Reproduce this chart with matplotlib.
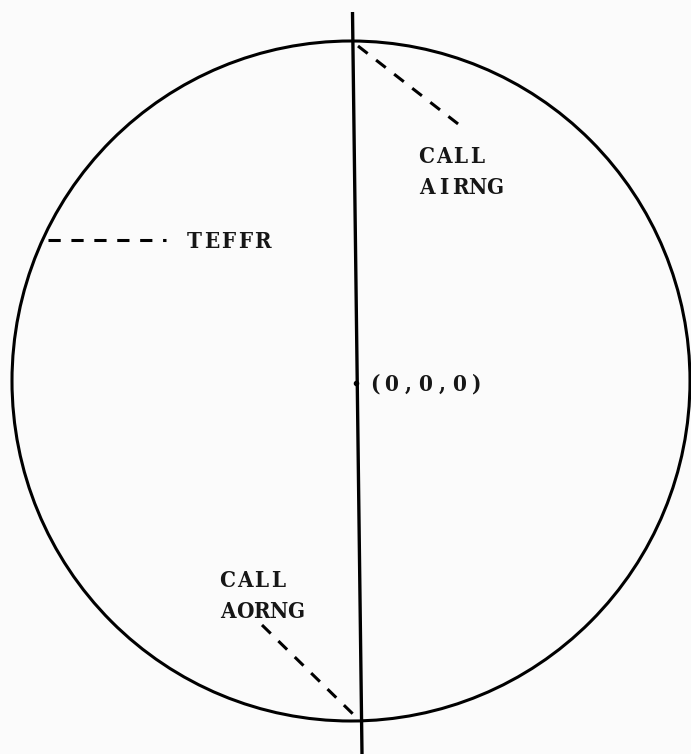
import matplotlib.pyplot as plt
from matplotlib.patches import Ellipse

# diagram geometry, in image pixels (y grows downward)
circle_center = (351, 381)
circle_size = (678, 680)          # width, height
axis_top = (352.5, 12)
axis_bottom = (362, 754)

# leader lines: (start, end)
leaders = [
    ((358, 46), (462, 127)),      # CALL AIRNG
    ((48, 240), (166, 240)),      # TEFFR
    ((262, 625), (355, 716)),     # CALL AORNG
]

# labels: lines of text, left x, first baseline y
labels = [
    (["CALL", "AIRNG"], 418, 163),
    (["TEFFR"], 186, 248),
    (["(0,0,0)"], 366, 391),
    (["CALL", "AORNG"], 219, 587),
]

ADVANCE = 17        # typewriter pitch, px
LINE_PITCH = 31     # px between baselines

fig = plt.figure(figsize=(6.91, 7.54), dpi=100)
ax = fig.add_axes([0, 0, 1, 1])
ax.set_xlim(0, 691)
ax.set_ylim(754, 0)
ax.axis('off')

ax.add_patch(Ellipse(circle_center, circle_size[0], circle_size[1],
                     fill=False, color='black', lw=2.2))
ax.plot([axis_top[0], axis_bottom[0]], [axis_top[1], axis_bottom[1]],
        color='black', lw=2.4, solid_capstyle='butt')

for (x0, y0), (x1, y1) in leaders:
    ax.plot([x0, x1], [y0, y1], color='black', lw=2.2,
            linestyle=(0, (4, 3.5)))

# small origin tick on the axis
ax.plot([356.5], [383], 'o', color='black', ms=3)

# typewriter text: one character per fixed-width cell
for lines, x, y in labels:
    for row, line in enumerate(lines):
        for i, ch in enumerate(line):
            ax.text(x + ADVANCE * (i + 0.5), y + LINE_PITCH * row, ch,
                    family='DejaVu Serif', fontstretch='condensed',
                    fontsize=16, fontweight='bold', ha='center',
                    va='baseline', color='#161616')

fig.savefig('out.png', dpi=100, facecolor='#fbfbfb')
